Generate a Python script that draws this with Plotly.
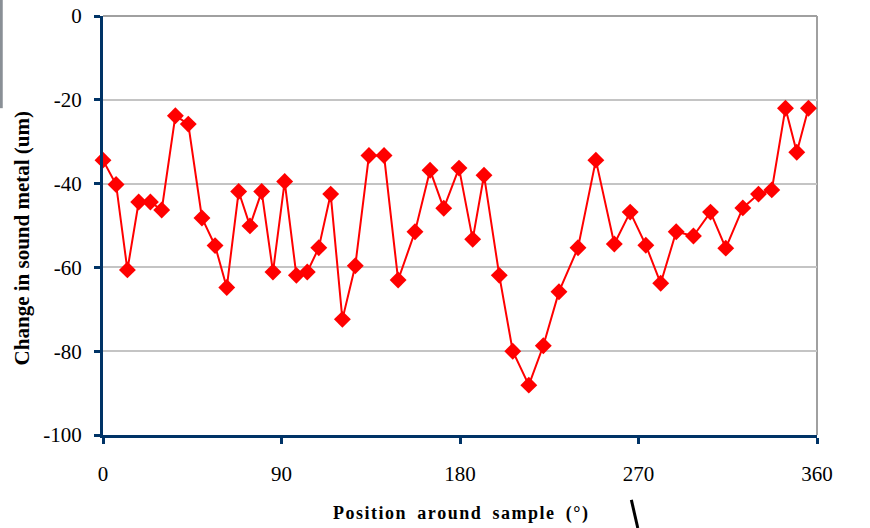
import plotly.graph_objects as go

# Data
position_deg = [0, 6.6, 12.3, 18, 23.9, 29.6, 36.5, 43, 49.9, 56.5, 62.4, 68.4, 74.1, 80,
                85.7, 91.6, 97.5, 103, 108.8, 114.8, 120.7, 127.2, 134.1, 141.7, 148.8,
                157.3, 164.9, 171.8, 179.5, 186.4, 192.1, 199.8, 206.6, 214.7, 222,
                229.9, 239.5, 248.5, 257.8, 265.8, 273.7, 281.2, 289, 297.7, 306.3,
                314, 322.6, 330.5, 337.2, 344.1, 349.8, 355.7]
change_um = [-34.4, -40.2, -60.6, -44.4, -44.4, -46.3, -23.8, -25.8, -48.2, -54.8, -64.8,
             -41.9, -50.1, -41.9, -61.1, -39.5, -61.9, -61.1, -55.3, -42.5, -72.4, -59.6,
             -33.3, -33.3, -63.0, -51.5, -36.8, -45.9, -36.3, -53.3, -38.0, -61.9, -80.0,
             -88.1, -78.7, -65.8, -55.3, -34.4, -54.4, -46.8, -54.7, -63.8, -51.5, -52.5,
             -46.8, -55.4, -45.8, -42.5, -41.5, -22.0, -32.5, -22.0]
x_ticks = [0, 90, 180, 270, 360]
y_ticks = [0, -20, -40, -60, -80, -100]
x_title = "Position around sample (°)"
y_title = "Change in sound metal (um)"

NAVY = "#003366"
SERIF = "Liberation Serif, Times New Roman, serif"

def spaced(s):
    # emulate the letter spacing of the original title
    return "\u2009 \u2009".join("\u200a".join(w) for w in s.split(" "))

fig = go.Figure()
fig.add_trace(go.Scatter(
    x=position_deg, y=change_um, mode="lines+markers",
    line=dict(color="#ff0000", width=2),
    marker=dict(symbol="diamond", size=13, color="#ff0000"),
    showlegend=False, cliponaxis=False,
))

fig.update_layout(
    width=870, height=528,
    margin=dict(l=103, r=53, t=16, b=93),
    paper_bgcolor="white", plot_bgcolor="white",
    font=dict(family=SERIF, color="black", size=21),
    xaxis=dict(
        range=[0, 360], tickvals=x_ticks, ticktext=[str(v) for v in x_ticks],
        showgrid=False, zeroline=False, automargin=False,
        showline=True, linecolor=NAVY, linewidth=3,
        ticks="outside", ticklen=6, tickwidth=3, tickcolor=NAVY,
        tickfont=dict(family=SERIF, size=21, color="black"),
        ticklabelstandoff=12,
    ),
    yaxis=dict(
        range=[-100, 0], tickvals=y_ticks, ticktext=[str(v) for v in y_ticks],
        showgrid=True, gridcolor="#c4c4c4", gridwidth=2, zeroline=False, automargin=False,
        showline=True, linecolor=NAVY, linewidth=3,
        ticks="outside", ticklen=6, tickwidth=3, tickcolor=NAVY,
        tickfont=dict(family=SERIF, size=21, color="black"),
        ticklabelstandoff=8,
    ),
    annotations=[
        dict(text="<b>" + spaced(x_title) + "</b>", xref="paper", yref="paper",
             x=0.5, y=-0.188, xanchor="center", yanchor="middle", showarrow=False,
             font=dict(family=SERIF, size=18, color="black")),
        dict(text="<b>" + y_title + "</b>", xref="paper", yref="paper",
             x=-0.113, y=0.47, xanchor="center", yanchor="middle", showarrow=False,
             textangle=-90, font=dict(family=SERIF, size=21, color="black")),
    ],
    shapes=[
        dict(type="line", xref="paper", yref="paper", x0=0, x1=1, y0=1, y1=1,
             line=dict(color="#a0a0a0", width=2), layer="below"),
        dict(type="line", xref="paper", yref="paper", x0=1, x1=1, y0=0, y1=1,
             line=dict(color="#a0a0a0", width=2), layer="below"),
        # cropping artifacts seen in the reference
        dict(type="line", xref="paper", yref="paper", x0=-0.1425, x1=-0.1425, y0=1.04, y1=0.78,
             line=dict(color="#8a9096", width=3)),
        dict(type="line", xref="paper", yref="paper", x0=0.74, x1=0.749, y0=-0.155, y1=-0.222,
             line=dict(color="black", width=3)),
    ],
)

fig.write_html("out.html")
